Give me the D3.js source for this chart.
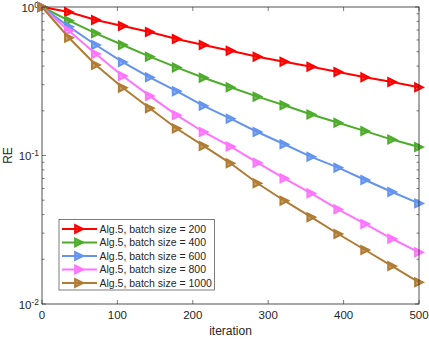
<!DOCTYPE html>
<html>
<head>
<meta charset="utf-8">
<script src="https://cdn.jsdelivr.net/npm/d3@7"></script>
<style>
  body { margin: 0; background: #fff; }
  svg text { font-family: "Liberation Sans", Arial, sans-serif; fill: #262626; }
</style>
</head>
<body>
<div id="chart"></div>
<script>
// Marker positions (iterations) and relative error per batch size
const iterations = [0, 35.7, 71.4, 107.1, 142.9, 178.6, 214.3, 250, 285.7, 321.4, 357.1, 392.9, 428.6, 464.3, 500];
const batch200  = [1.0, 0.925, 0.818, 0.745, 0.679, 0.609, 0.555, 0.508, 0.463, 0.428, 0.396, 0.365, 0.336, 0.313, 0.288];
const batch400  = [1.0, 0.809, 0.665, 0.555, 0.463, 0.392, 0.334, 0.288, 0.249, 0.218, 0.189, 0.166, 0.146, 0.128, 0.114];
const batch600  = [1.0, 0.737, 0.555, 0.426, 0.336, 0.271, 0.216, 0.177, 0.144, 0.119, 0.098, 0.0828, 0.0684, 0.0568, 0.0476];
const batch800  = [1.0, 0.692, 0.483, 0.343, 0.252, 0.187, 0.144, 0.115, 0.0895, 0.0702, 0.0556, 0.0434, 0.0346, 0.0275, 0.0223];
const batch1000 = [1.0, 0.621, 0.407, 0.286, 0.208, 0.152, 0.116, 0.0886, 0.065, 0.0496, 0.0384, 0.0296, 0.0231, 0.018, 0.014];

const seriesNames = ["Alg.5, batch size = 200", "Alg.5, batch size = 400", "Alg.5, batch size = 600",
                     "Alg.5, batch size = 800", "Alg.5, batch size = 1000"];
const seriesValues = [batch200, batch400, batch600, batch800, batch1000];
const colors = ["#ff0000", "#4dac2a", "#6494ee", "#ff73ff", "#b07c34"];

const xTicks = [0, 100, 200, 300, 400, 500];
const yDecades = [1e-2, 1e-1, 1e0];
const yExponents = ["-2", "-1", "0"];

const W = 429, H = 339;
const margin = {top: 7, right: 10, bottom: 35, left: 42};
const width = W - margin.left - margin.right,
      height = H - margin.top - margin.bottom;

const svg = d3.select("#chart").append("svg")
    .attr("width", W).attr("height", H);

const g = svg.append("g").attr("transform", `translate(${margin.left},${margin.top})`);

const x = d3.scaleLinear().domain([0, 500]).range([0, width]);
const y = d3.scaleLog().domain([1e-2, 1]).range([height, 0]);

// minor ticks
const minor = [];
[1e-2, 1e-1].forEach(d => { for (let k = 2; k <= 9; k++) minor.push(d * k); });

const tickColor = "#262626";
// bottom / top x ticks (inward)
xTicks.forEach(t => {
  g.append("line").attr("x1", x(t)).attr("x2", x(t)).attr("y1", height).attr("y2", height - 4)
    .attr("stroke", tickColor).attr("stroke-width", 0.6);
  g.append("line").attr("x1", x(t)).attr("x2", x(t)).attr("y1", 0).attr("y2", 4)
    .attr("stroke", tickColor).attr("stroke-width", 0.6);
  g.append("text").attr("x", x(t)).attr("y", height + 15).attr("text-anchor", "middle")
    .style("font-size", "11.5px").text(t);
});
// y ticks
yDecades.forEach((d, i) => {
  g.append("line").attr("x1", 0).attr("x2", 4).attr("y1", y(d)).attr("y2", y(d))
    .attr("stroke", tickColor).attr("stroke-width", 0.6);
  g.append("line").attr("x1", width).attr("x2", width - 4).attr("y1", y(d)).attr("y2", y(d))
    .attr("stroke", tickColor).attr("stroke-width", 0.6);
  const t = g.append("text").attr("x", -3).attr("y", y(d) + 4.5).attr("text-anchor", "end")
    .style("font-size", "11.5px");
  t.append("tspan").text("10");
  t.append("tspan").attr("dy", -4).style("font-size", "8.5px").text(yExponents[i]);
});
minor.forEach(d => {
  g.append("line").attr("x1", 0).attr("x2", 2.5).attr("y1", y(d)).attr("y2", y(d))
    .attr("stroke", tickColor).attr("stroke-width", 0.6);
  g.append("line").attr("x1", width).attr("x2", width - 2.5).attr("y1", y(d)).attr("y2", y(d))
    .attr("stroke", tickColor).attr("stroke-width", 0.6);
});

// series
const line = d3.line().x((d, i) => x(iterations[i])).y(d => y(d));
const tri = d3.symbol().type({
  draw(ctx, size) {
    const r = Math.sqrt(size) / 2;
    ctx.moveTo(r, 0); ctx.lineTo(-r, -r); ctx.lineTo(-r, r); ctx.closePath();
  }
}).size(60);

seriesValues.forEach((vals, s) => {
  g.append("path").datum(vals).attr("d", line)
    .attr("fill", "none").attr("stroke", colors[s]).attr("stroke-width", 2);
  g.selectAll(null).data(vals).enter().append("path")
    .attr("d", tri)
    .attr("transform", (d, i) => `translate(${x(iterations[i])},${y(d)})`)
    .attr("fill", colors[s]).attr("fill-opacity", 0.7)
    .attr("stroke", colors[s]).attr("stroke-width", 2)
    .attr("stroke-linejoin", "miter");
});

// box
g.append("rect").attr("x", 0).attr("y", 0).attr("width", width).attr("height", height)
  .attr("fill", "none").attr("stroke", tickColor).attr("stroke-width", 0.8);

// labels
svg.append("text").attr("x", margin.left + width / 2).attr("y", H - 4).attr("text-anchor", "middle")
  .style("font-size", "12px").text("iteration");
svg.append("text").attr("transform", `translate(12,${margin.top + height / 2}) rotate(-90)`)
  .attr("text-anchor", "middle").style("font-size", "12px").text("RE");

// legend
const legend = svg.append("g").attr("transform", "translate(59,219.5)");
legend.append("rect").attr("width", 155.5).attr("height", 70.5)
  .attr("fill", "#fff").attr("stroke", tickColor).attr("stroke-width", 0.6);
seriesNames.forEach((name, i) => {
  const ly = 9.5 + i * 13.5;
  legend.append("line").attr("x1", 3).attr("x2", 38).attr("y1", ly).attr("y2", ly)
    .attr("stroke", colors[i]).attr("stroke-width", 2);
  legend.append("path").attr("d", tri).attr("transform", `translate(20,${ly})`)
    .attr("fill", colors[i]).attr("fill-opacity", 0.7)
    .attr("stroke", colors[i]).attr("stroke-width", 2);
  legend.append("text").attr("x", 40.5).attr("y", ly + 3.8).style("font-size", "10.5px").text(name);
});
</script>
</body>
</html>
